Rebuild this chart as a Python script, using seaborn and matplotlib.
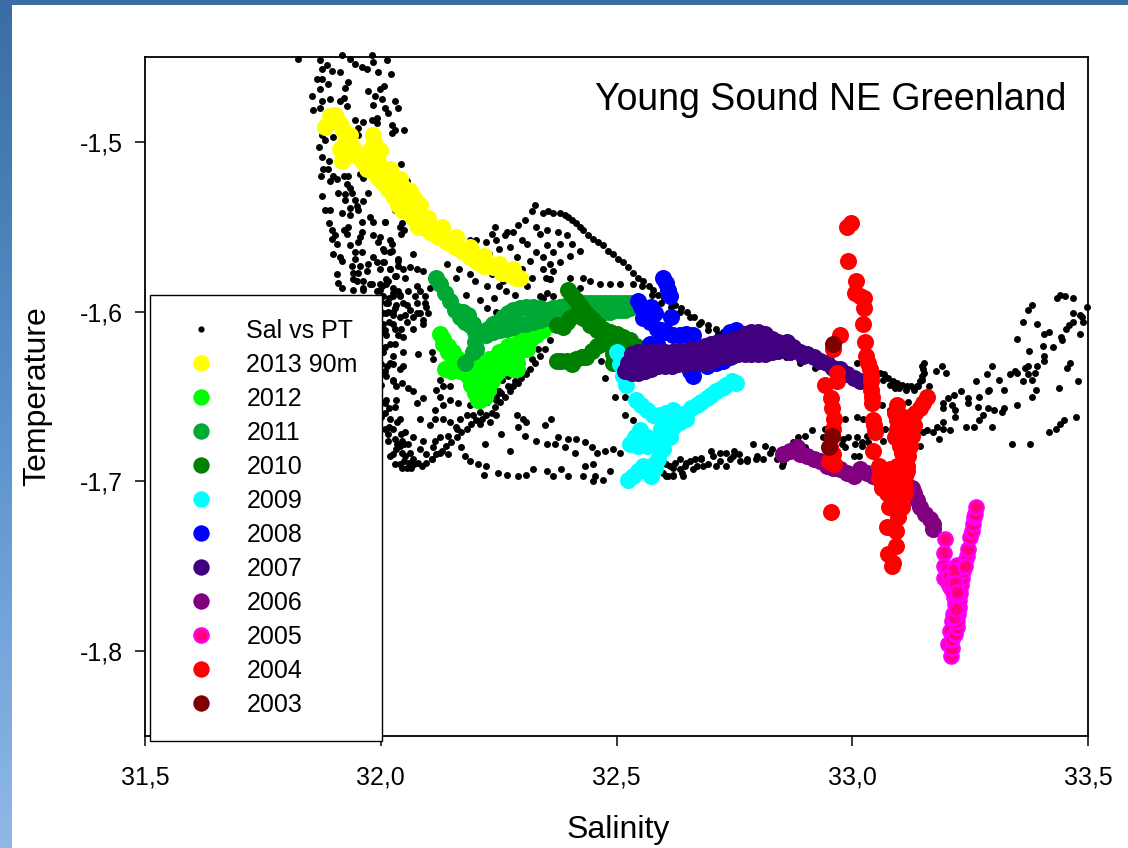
import numpy as np
import pandas as pd
import matplotlib
matplotlib.use("Agg")
import matplotlib.pyplot as plt
from matplotlib.lines import Line2D
from matplotlib.colors import LinearSegmentedColormap
import seaborn as sns

TITLE = "Young Sound NE Greenland"
x_ticks = [31.5, 32.0, 32.5, 33.0, 33.5]
x_tick_labels = ["31,5", "32,0", "32,5", "33,0", "33,5"]
y_ticks = [-1.5, -1.6, -1.7, -1.8]
y_tick_labels = ["-1,5", "-1,6", "-1,7", "-1,8"]

# Black CTD cloud, split by region: (salinity, temperature)
cloud_top = [(31.824,-1.451),(31.871,-1.452),(31.875,-1.457),(31.885,-1.455),(31.896,-1.458),(31.914,-1.459),(31.864,-1.463),(31.875,-1.463),(31.889,-1.466),(31.93,-1.465),(31.924,-1.468),(31.871,-1.469),(31.855,-1.473),(31.921,-1.474),(31.914,-1.476),(31.892,-1.475),(31.875,-1.476),(31.856,-1.481),(31.871,-1.48),(31.928,-1.479),(31.917,-1.449),(31.935,-1.451),(31.945,-1.454),(31.96,-1.456),(31.97,-1.457),(31.981,-1.449),(31.984,-1.453),(32.013,-1.452),(31.995,-1.459),(32.021,-1.46),(31.974,-1.47),(32.006,-1.467),(31.998,-1.469),(31.988,-1.473),(32.002,-1.475),(32.03,-1.476),(31.984,-1.478),(32.009,-1.48),(32.016,-1.483),(32.037,-1.48),(31.945,-1.487),(31.963,-1.488),(31.981,-1.487),(31.991,-1.486),(31.991,-1.489),(32.023,-1.49),(32.03,-1.493),(32.023,-1.495),(31.952,-1.492),(31.952,-1.496),(31.875,-1.496),(31.882,-1.499),(31.899,-1.497),(31.868,-1.503),(31.875,-1.509),(31.891,-1.511),(31.877,-1.516),(31.889,-1.516),(31.873,-1.52),(31.898,-1.52),(31.892,-1.523),(31.907,-1.522),(31.921,-1.52),(31.931,-1.52),(31.928,-1.525),(31.935,-1.527),(31.956,-1.519),(31.963,-1.521),(31.91,-1.53),(31.924,-1.531),(31.938,-1.53),(31.875,-1.532),(31.974,-1.53),(31.924,-1.534),(31.945,-1.534),(31.963,-1.535),(31.949,-1.538),(31.952,-1.54),(31.935,-1.539),(31.882,-1.54),(31.892,-1.54),(31.917,-1.542),(31.935,-1.543),(31.977,-1.544),(31.984,-1.547),(32.009,-1.547),(31.891,-1.548),(31.931,-1.55),(31.921,-1.552),(31.896,-1.552),(31.96,-1.547),(31.928,-1.554),(31.96,-1.553),(31.984,-1.555),(31.998,-1.556),(31.903,-1.555),(31.896,-1.557),(31.956,-1.556),(31.952,-1.559),(31.995,-1.559),(31.907,-1.56),(31.935,-1.561),(32.023,-1.56),(31.945,-1.565),(31.96,-1.565),(31.899,-1.566),(31.914,-1.568),(31.917,-1.57),(32.006,-1.564),(32.02,-1.565),(32.037,-1.569),(31.945,-1.569),(31.984,-1.568),(31.938,-1.573),(31.956,-1.573),(31.974,-1.572),(31.991,-1.571),(32.006,-1.571),(32.02,-1.575),(31.907,-1.578),(31.91,-1.583),(31.917,-1.586),(31.942,-1.577),(31.952,-1.577),(31.97,-1.576),(31.998,-1.575),(31.942,-1.581),(31.963,-1.582),(31.981,-1.584),(31.942,-1.587),(31.963,-1.587),(32.002,-1.585),(32.016,-1.582),(32.03,-1.579),(32.037,-1.573),(32.05,-1.493),(32.043,-1.513),(32.055,-1.523),(32.04,-1.532),(32.06,-1.535),(32.045,-1.548),(32.03,-1.54),(32.05,-1.552)]

cloud_ridge = [(32.327,-1.537),(32.32,-1.541),(32.306,-1.546),(32.291,-1.549),(32.281,-1.553),(32.267,-1.553),(32.263,-1.555),(32.242,-1.55),(32.235,-1.554),(32.203,-1.558),(32.189,-1.558),(32.224,-1.559),(32.245,-1.558),(32.274,-1.562),(32.288,-1.568),(32.316,-1.57),(32.344,-1.575),(32.359,-1.581),(32.33,-1.55),(32.337,-1.554),(32.352,-1.561),(32.366,-1.565),(32.352,-1.552),(32.38,-1.542),(32.366,-1.542),(32.344,-1.542),(32.355,-1.541),(32.39,-1.543),(32.397,-1.544),(32.406,-1.546),(32.415,-1.548),(32.422,-1.55),(32.429,-1.552),(32.44,-1.555),(32.45,-1.557),(32.461,-1.559),(32.472,-1.561),(32.482,-1.564),(32.493,-1.566),(32.503,-1.569),(32.514,-1.571),(32.525,-1.574),(32.535,-1.577),(32.546,-1.58),(32.557,-1.582),(32.568,-1.585),(32.578,-1.587),(32.589,-1.59),(32.6,-1.592),(32.612,-1.593),(32.625,-1.596),(32.637,-1.598),(32.65,-1.6),(32.665,-1.603),(32.68,-1.606),(32.695,-1.608),(32.71,-1.61),(32.725,-1.612),(32.74,-1.613),(32.755,-1.615),(32.77,-1.617),(32.8,-1.62),(32.83,-1.624),(32.86,-1.627),(32.89,-1.63),(32.92,-1.633),(32.95,-1.635),(32.98,-1.638),(33.01,-1.63),(33.03,-1.632),(33.045,-1.634),(33.059,-1.636),(33.067,-1.637),(33.075,-1.639),(33.087,-1.641),(33.095,-1.642),(33.105,-1.643),(33.116,-1.644),(33.125,-1.644),(33.137,-1.644),(33.143,-1.641),(33.147,-1.638),(33.15,-1.634),(33.152,-1.63),(33.1,-1.645),(33.115,-1.646),(33.13,-1.646),
(32.555,-1.585),(32.575,-1.59),(32.595,-1.595),(32.615,-1.597),(32.635,-1.6),(32.655,-1.603),(32.675,-1.607),(32.695,-1.611),(32.715,-1.613),(32.735,-1.615),(32.755,-1.618),(32.775,-1.62),(33.05,-1.637),(33.065,-1.64),(33.08,-1.643),(33.09,-1.645),(33.14,-1.644),(33.147,-1.632),(33.148,-1.64),(33.152,-1.636)]

cloud_mid = [(32.422,-1.564),(32.401,-1.567),(32.38,-1.571),(32.366,-1.576),(32.429,-1.58),(32.443,-1.582),(32.465,-1.584),(32.486,-1.584),(32.507,-1.584),(32.535,-1.584),(32.401,-1.58),(32.359,-1.581),(32.422,-1.586),(32.352,-1.589),(32.366,-1.591),(32.337,-1.591),(32.31,-1.585),(32.285,-1.59),(32.265,-1.588),(32.25,-1.585),(32.225,-1.585),(32.24,-1.592),(32.21,-1.593),(32.31,-1.598),(32.27,-1.6),(32.245,-1.6),(32.225,-1.598),(32.19,-1.578),(32.165,-1.575),(32.14,-1.572),(32.12,-1.58),
(32.25,-1.563),(32.23,-1.566),(32.3,-1.558),(32.31,-1.56),(32.33,-1.565),(32.345,-1.568),(32.36,-1.572),(32.38,-1.56),(32.395,-1.555),(32.375,-1.553),(32.405,-1.56),(32.35,-1.58),(32.32,-1.58),(32.3,-1.575),(32.28,-1.58),(32.26,-1.582),(32.235,-1.578),(32.2,-1.582),(32.18,-1.59),(32.16,-1.58)]

cloud_left = [(32.009,-1.547),(32.019,-1.558),(32.005,-1.563),(32.023,-1.564),(32.04,-1.55),(32.044,-1.554),(32.065,-1.53),(32.069,-1.566),(32.037,-1.57),(32.005,-1.571),(32.019,-1.575),(32.047,-1.575),(32.062,-1.574),(32.076,-1.575),(32.09,-1.576),(32.033,-1.579),(32.012,-1.581),(32.051,-1.58),(32.026,-1.589),(32.04,-1.591),(32.058,-1.588),(32.076,-1.585),(31.998,-1.587),(32.012,-1.595),(32.033,-1.596),(32.055,-1.596),(32.076,-1.595),(32.093,-1.591),(32.097,-1.597),(32.005,-1.601),(32.026,-1.602),(32.051,-1.602),(32.076,-1.601),(32.09,-1.605),(32.009,-1.611),(32.03,-1.61),(32.044,-1.61),(32.069,-1.61),(32.037,-1.614),(32.047,-1.615),(32.019,-1.619),(32.03,-1.619),(32.005,-1.624),(32.047,-1.624),(32.079,-1.625),(32.026,-1.626),(32.108,-1.624),(32.019,-1.63),(32.047,-1.632),(32.009,-1.635),(32.111,-1.628),(32.026,-1.64),(32.058,-1.645),(32.069,-1.647),(32.033,-1.644),(32.125,-1.64),(32.132,-1.644),(32.147,-1.644),(32.118,-1.646),(32.09,-1.651),(32.076,-1.654),(32.125,-1.65),(32.147,-1.652),(32.164,-1.654),(32.132,-1.655),(32.115,-1.658),(32.033,-1.652),(32.009,-1.654),(32.019,-1.663),(32.04,-1.663),(32.083,-1.663),(32.115,-1.663),(32.104,-1.667),(32.132,-1.663),(32.147,-1.665),(32.168,-1.663),(32.182,-1.661),(32.196,-1.661),(32.21,-1.666),(32.231,-1.665),(32.245,-1.661),(32.009,-1.669),(32.026,-1.669),(32.051,-1.671),(32.069,-1.674),(32.09,-1.676),(32.115,-1.676),(32.125,-1.674),(32.143,-1.673),(32.161,-1.669),(32.04,-1.679),(32.058,-1.678),(32.062,-1.683),(32.083,-1.681),(32.051,-1.685),(32.069,-1.687),(32.087,-1.691),(32.108,-1.687),(32.125,-1.683),(32.143,-1.684),(32.071,-1.69),(32.044,-1.672),(32.16,-1.668),(32.19,-1.655),(32.2,-1.654),(32.22,-1.643),(32.24,-1.645),(32.232,-1.638),(32.258,-1.64),(32.275,-1.632),(32.265,-1.625),(32.295,-1.622),(32.31,-1.615),(32.33,-1.605),(32.344,-1.592),(32.27,-1.638),(32.285,-1.628),(32.3,-1.618),(32.32,-1.61),(32.336,-1.6),(32.245,-1.65),(32.225,-1.653),(32.25,-1.647),(32.21,-1.659),
(32.02,-1.685),(32.03,-1.69),(32.045,-1.692),(32.065,-1.692),(32.08,-1.689),(32.095,-1.684),(32.11,-1.68),(32.05,-1.688),(32.035,-1.678),(32.015,-1.676),(32.008,-1.66),(32.0,-1.662)]

cloud_band = [(32.242,-1.656),(32.253,-1.653),(32.263,-1.65),(32.274,-1.647),(32.281,-1.644),(32.291,-1.642),(32.298,-1.639),(32.309,-1.637),(32.316,-1.634),(32.327,-1.63),(32.337,-1.626),(32.348,-1.622),(32.359,-1.617),(32.256,-1.648),(32.27,-1.644),(32.284,-1.641),(32.302,-1.635),(32.32,-1.628),(32.334,-1.622),(32.245,-1.652),(32.097,-1.689),(32.108,-1.687),(32.118,-1.684),(32.129,-1.682),(32.139,-1.679),(32.15,-1.677),(32.161,-1.674),(32.171,-1.671),(32.182,-1.669),(32.192,-1.666),(32.203,-1.664),(32.214,-1.663),(32.224,-1.661),(32.235,-1.66)]

cloud_leg = [(31.998,-1.584),(32.012,-1.584),(32.026,-1.586),(32.04,-1.59),(32.003,-1.591),(32.018,-1.592),(31.998,-1.594),(31.99,-1.6),(32.0,-1.6),(32.016,-1.6),(32.03,-1.598),(31.99,-1.608),(32.003,-1.608),(32.018,-1.606),(32.0,-1.612),(32.012,-1.614),(31.99,-1.618),(32.01,-1.621),(32.0,-1.631),(32.014,-1.632),(32.027,-1.631),(32.0,-1.636),(32.012,-1.638),(32.04,-1.634),(32.027,-1.641),(32.045,-1.642),(32.0,-1.643),(32.012,-1.652),(32.0,-1.653),(32.018,-1.657),(32.03,-1.656),(32.035,-1.665),(32.018,-1.668),(32.015,-1.672),(32.03,-1.675),(32.045,-1.676),(32.05,-1.678),(32.033,-1.681),(32.045,-1.683),(32.04,-1.69),(32.055,-1.692),(32.025,-1.684),(32.06,-1.689),
(32.005,-1.591),(32.016,-1.595),(32.027,-1.591),(32.037,-1.588),(32.048,-1.595),(32.062,-1.599),(32.072,-1.591),(32.083,-1.588),(32.094,-1.595),(32.101,-1.601),(32.012,-1.601),(32.027,-1.6),(32.041,-1.603),(32.055,-1.606),(32.069,-1.603),(32.083,-1.601),(32.005,-1.607),(32.027,-1.607),(32.09,-1.607),(32.104,-1.586),(31.977,-1.584),(31.991,-1.588),(31.949,-1.582),(31.963,-1.586)]

cloud_low = [(32.17,-1.68),(32.178,-1.685),(32.189,-1.688),(32.206,-1.69),(32.224,-1.691),(32.221,-1.678),(32.22,-1.696),(32.249,-1.695),(32.267,-1.696),(32.291,-1.697),(32.309,-1.696),(32.323,-1.693),(32.352,-1.694),(32.366,-1.697),(32.383,-1.693),(32.397,-1.697),(32.274,-1.682),(32.288,-1.661),(32.291,-1.668),(32.302,-1.663),(32.309,-1.665),(32.348,-1.667),(32.362,-1.663),(32.256,-1.672),(32.306,-1.673),(32.33,-1.676),(32.352,-1.678),(32.369,-1.678),(32.376,-1.674),(32.397,-1.675),(32.415,-1.675),(32.39,-1.68),(32.412,-1.683),(32.433,-1.677),(32.447,-1.68),(32.458,-1.683),(32.475,-1.682),(32.493,-1.681),(32.507,-1.683),(32.518,-1.661),(32.535,-1.664),(32.518,-1.65),(32.496,-1.65),(32.475,-1.639),(32.468,-1.629),(32.433,-1.691),(32.45,-1.69),(32.429,-1.697),(32.454,-1.697),(32.486,-1.694),(32.472,-1.699),(32.45,-1.7),(32.606,-1.69),(32.62,-1.692),(32.634,-1.693),(32.648,-1.689),(32.666,-1.687),(32.68,-1.686),(32.7,-1.682),(32.719,-1.683),(32.741,-1.687),(32.776,-1.688),(32.789,-1.678),(32.815,-1.679),(32.829,-1.681),(32.84,-1.687),(32.733,-1.691),(32.712,-1.691),(32.684,-1.691),(32.663,-1.693),(32.642,-1.697),(32.62,-1.696),(32.61,-1.697),(32.795,-1.687),(32.76,-1.684),(32.75,-1.682),
(32.599,-1.695),(32.613,-1.691),(32.624,-1.689),(32.634,-1.687),(32.645,-1.691),(32.656,-1.688),(32.67,-1.691),(32.68,-1.687),(32.694,-1.69),(32.705,-1.685),(32.719,-1.688),(32.733,-1.683),(32.747,-1.685),(32.762,-1.688),(32.776,-1.687),(32.797,-1.685),(32.811,-1.687),(32.825,-1.683),(32.62,-1.697),(32.638,-1.695),(32.606,-1.697)]

cloud_right = [(33.162,-1.644),(33.177,-1.635),(33.19,-1.632),(33.198,-1.636),(33.262,-1.641),(33.286,-1.637),(33.297,-1.632),(33.312,-1.64),(33.334,-1.637),(33.345,-1.635),(33.35,-1.636),(33.367,-1.633),(33.372,-1.632),(33.362,-1.641),(33.372,-1.637),(33.382,-1.64),(33.388,-1.636),(33.392,-1.632),(33.406,-1.629),(33.406,-1.626),(33.404,-1.62),(33.425,-1.621),(33.375,-1.623),(33.349,-1.616),(33.443,-1.615),(33.444,-1.617),(33.407,-1.613),(33.418,-1.612),(33.454,-1.61),(33.459,-1.608),(33.468,-1.606),(33.469,-1.601),(33.483,-1.602),(33.49,-1.606),(33.484,-1.613),(33.487,-1.603),(33.497,-1.597),(33.435,-1.592),(33.441,-1.59),(33.451,-1.591),(33.468,-1.592),(33.381,-1.596),(33.372,-1.599),(33.362,-1.606),(33.391,-1.607),(33.462,-1.63),(33.455,-1.633),(33.479,-1.641),(33.439,-1.645),(33.389,-1.646),(33.381,-1.65),(33.35,-1.655),(33.322,-1.646),(33.291,-1.646),(33.287,-1.647),(33.268,-1.65),(33.245,-1.651),(33.245,-1.654),(33.23,-1.647),(33.216,-1.649),(33.204,-1.651),(33.193,-1.654),(33.193,-1.657),(33.211,-1.655),(33.218,-1.658),(33.218,-1.662),(33.266,-1.656),(33.287,-1.657),(33.301,-1.658),(33.322,-1.657),(33.317,-1.659),(33.277,-1.661),(33.268,-1.664),(33.241,-1.668),(33.259,-1.668),(33.297,-1.668),(33.208,-1.67),(33.192,-1.665),(33.193,-1.669),(33.179,-1.668),(33.172,-1.671),(33.158,-1.67),(33.151,-1.671),(33.185,-1.675),(33.144,-1.679),(33.475,-1.662),(33.449,-1.664),(33.441,-1.666),(33.432,-1.669),(33.417,-1.671),(33.338,-1.678),(33.376,-1.678)]

cloud_under_red = [(32.985,-1.663),(33.01,-1.662),(33.022,-1.663),(32.942,-1.669),(32.939,-1.674),(32.992,-1.674),(32.981,-1.675),(32.978,-1.678),(32.985,-1.68),(33.003,-1.685),(33.015,-1.685),(33.01,-1.674),(33.006,-1.678),(33.02,-1.677),(33.02,-1.679),(33.031,-1.673),(33.034,-1.677),(33.063,-1.655),(33.08,-1.658),(33.119,-1.653),(33.07,-1.669),(33.066,-1.676),(32.914,-1.67),(32.9,-1.673),(32.886,-1.674),(32.875,-1.677),(32.854,-1.689),(32.85,-1.691),(32.87,-1.683),(32.9,-1.68)]

pts_2013 = [(31.882,-1.491),(31.892,-1.485),(31.907,-1.487),(31.915,-1.49),(31.92,-1.493),(31.931,-1.497),(31.925,-1.5),(31.914,-1.504),(31.918,-1.511),(31.93,-1.505),(31.941,-1.503),(31.95,-1.507),(31.96,-1.511),(31.97,-1.516),(31.984,-1.496),(31.986,-1.5),(31.988,-1.503),(31.99,-1.507),(31.994,-1.511),(31.984,-1.518),(31.995,-1.521),(32.005,-1.524),(32.016,-1.528),(32.026,-1.532),(32.036,-1.537),(32.046,-1.54),(32.056,-1.54),(32.068,-1.545),(32.08,-1.55),(32.09,-1.55),(32.105,-1.553),(32.122,-1.556),(32.141,-1.559),(32.158,-1.562),(32.174,-1.565),(32.189,-1.568),(32.205,-1.571),(32.22,-1.573),(32.238,-1.574),(32.255,-1.576),(32.27,-1.578),(32.283,-1.579),(32.295,-1.58),
(32.009,-1.521),(32.024,-1.525),(32.037,-1.529),(32.049,-1.533),(32.062,-1.538),(32.075,-1.541),(32.092,-1.545),(32.104,-1.551),(32.121,-1.553),(32.136,-1.558),(32.151,-1.558),(32.164,-1.562),(32.179,-1.564),(32.194,-1.568),(32.211,-1.568),(32.225,-1.572),(32.242,-1.573),(32.257,-1.577),(32.274,-1.577),(32.287,-1.58),(32.02,-1.516),(32.041,-1.522),(32.062,-1.529),(32.083,-1.537),(31.998,-1.505),(31.977,-1.505),(31.977,-1.514),(31.935,-1.496),(31.945,-1.508),(31.903,-1.484),
(32.1,-1.545),(32.13,-1.55),(32.16,-1.556),(32.19,-1.562),(32.22,-1.567),(32.25,-1.572),(32.28,-1.575),(32.07,-1.533),(32.05,-1.527)]

pts_2012 = [(32.125,-1.613),(32.133,-1.619),(32.143,-1.624),(32.152,-1.63),(32.16,-1.634),(32.136,-1.634),(32.15,-1.635),(32.168,-1.635),(32.184,-1.637),(32.196,-1.64),(32.203,-1.645),(32.208,-1.648),(32.21,-1.652),(32.214,-1.647),(32.217,-1.642),(32.224,-1.638),(32.238,-1.632),(32.254,-1.628),(32.268,-1.631),(32.288,-1.634),(32.281,-1.624),(32.297,-1.62),(32.309,-1.616),(32.33,-1.61),(32.352,-1.608),(32.36,-1.607),(32.2,-1.63),(32.23,-1.628),(32.25,-1.624),(32.27,-1.62),(32.29,-1.625),(32.31,-1.622),(32.22,-1.64),(32.24,-1.636),(32.19,-1.628),
(32.132,-1.616),(32.143,-1.62),(32.154,-1.624),(32.164,-1.628),(32.175,-1.633),(32.185,-1.638),(32.192,-1.643),(32.199,-1.648),(32.207,-1.652),(32.221,-1.65),(32.228,-1.646),(32.235,-1.641),(32.245,-1.637),(32.26,-1.633),(32.274,-1.629),(32.288,-1.625),(32.302,-1.621),(32.316,-1.617),(32.33,-1.614),(32.344,-1.611),(32.21,-1.638),(32.224,-1.632),(32.242,-1.628),(32.26,-1.624),(32.277,-1.62),(32.295,-1.616),(32.203,-1.646),(32.214,-1.644),(32.15,-1.634),(32.168,-1.634),(32.185,-1.632),(32.203,-1.632),(32.281,-1.634),(32.288,-1.63)]

pts_2011 = [(32.118,-1.58),(32.125,-1.584),(32.136,-1.589),(32.146,-1.594),(32.157,-1.599),(32.168,-1.603),(32.178,-1.606),(32.189,-1.608),(32.199,-1.612),(32.185,-1.602),(32.196,-1.607),(32.175,-1.6),(32.217,-1.612),(32.228,-1.61),(32.238,-1.607),(32.249,-1.606),(32.26,-1.603),(32.27,-1.601),(32.281,-1.599),(32.295,-1.598),(32.309,-1.597),(32.323,-1.597),(32.337,-1.598),(32.352,-1.599),(32.366,-1.598),(32.38,-1.597),(32.394,-1.596),(32.224,-1.614),(32.238,-1.612),(32.253,-1.611),(32.267,-1.61),(32.281,-1.609),(32.295,-1.607),(32.309,-1.607),(32.323,-1.606),(32.337,-1.605),(32.352,-1.604),(32.366,-1.602),(32.38,-1.602),(32.412,-1.595),(32.422,-1.595),(32.433,-1.595),(32.443,-1.595),(32.454,-1.595),(32.465,-1.595),(32.475,-1.595),(32.486,-1.595),(32.496,-1.595),(32.507,-1.595),(32.518,-1.595),(32.528,-1.595),(32.412,-1.601),(32.422,-1.601),(32.433,-1.601),(32.443,-1.601),(32.454,-1.6),(32.465,-1.6),(32.475,-1.6),(32.486,-1.6),(32.496,-1.599),(32.507,-1.599),(32.518,-1.599),(32.528,-1.598),(32.199,-1.618),(32.196,-1.624),(32.178,-1.63),(32.203,-1.622)]

pts_2010 = [(32.397,-1.587),(32.405,-1.59),(32.415,-1.593),(32.422,-1.596),(32.429,-1.599),(32.44,-1.602),(32.45,-1.605),(32.461,-1.608),(32.472,-1.61),(32.486,-1.612),(32.5,-1.613),(32.514,-1.615),(32.528,-1.617),(32.542,-1.62),(32.373,-1.608),(32.387,-1.609),(32.394,-1.606),(32.401,-1.604),(32.415,-1.602),(32.429,-1.604),(32.443,-1.608),(32.458,-1.611),(32.472,-1.614),(32.489,-1.618),(32.507,-1.619),(32.373,-1.629),(32.383,-1.629),(32.394,-1.629),(32.405,-1.631),(32.415,-1.628),(32.426,-1.627),(32.436,-1.627),(32.447,-1.623),(32.458,-1.62),(32.468,-1.619),(32.479,-1.617),(32.493,-1.625),(32.493,-1.63)]

pts_2009 = [(32.5,-1.624),(32.507,-1.631),(32.514,-1.638),(32.521,-1.643),(32.542,-1.652),(32.553,-1.655),(32.564,-1.658),(32.578,-1.661),(32.592,-1.661),(32.606,-1.66),(32.62,-1.658),(32.754,-1.642),(32.744,-1.641),(32.733,-1.643),(32.723,-1.645),(32.712,-1.647),(32.701,-1.649),(32.691,-1.651),(32.68,-1.653),(32.67,-1.655),(32.659,-1.657),(32.648,-1.66),(32.638,-1.661),(32.627,-1.663),(32.617,-1.665),(32.606,-1.667),(32.595,-1.669),(32.648,-1.663),(32.634,-1.665),(32.62,-1.668),(32.606,-1.672),(32.595,-1.676),(32.585,-1.68),(32.613,-1.674),(32.599,-1.681),(32.588,-1.687),(32.581,-1.692),(32.574,-1.697),(32.564,-1.674),(32.549,-1.67),(32.539,-1.674),(32.528,-1.678),(32.546,-1.679),(32.564,-1.679),(32.578,-1.677),(32.557,-1.691),(32.546,-1.694),(32.535,-1.697),(32.525,-1.699),(32.574,-1.691)]

pts_2008 = [(32.599,-1.58),(32.606,-1.583),(32.609,-1.587),(32.613,-1.591),(32.616,-1.603),(32.546,-1.594),(32.553,-1.597),(32.564,-1.599),(32.574,-1.597),(32.581,-1.601),(32.557,-1.604),(32.571,-1.606),(32.585,-1.61),(32.595,-1.611),(32.606,-1.612),(32.62,-1.614),(32.634,-1.614),(32.648,-1.613),(32.662,-1.614),(32.571,-1.619),(32.585,-1.619),(32.655,-1.635),(32.662,-1.638),(32.691,-1.632),(32.712,-1.63),(32.726,-1.629),(32.74,-1.627),(32.74,-1.612),(32.754,-1.611),(32.769,-1.613),(32.776,-1.618)]

pts_2007 = [(32.518,-1.635),(32.532,-1.636),(32.546,-1.636),(32.56,-1.635),(32.574,-1.634),(32.588,-1.632),(32.602,-1.632),(32.617,-1.632),(32.631,-1.631),(32.645,-1.631),(32.659,-1.63),(32.673,-1.63),(32.687,-1.63),(32.701,-1.629),(32.716,-1.627),(32.73,-1.626),(32.744,-1.626),(32.758,-1.625),(32.772,-1.625),(32.786,-1.625),(32.8,-1.625),(32.815,-1.625),(32.829,-1.624),(32.843,-1.623),(32.532,-1.625),(32.546,-1.624),(32.56,-1.624),(32.574,-1.624),(32.588,-1.624),(32.602,-1.624),(32.617,-1.624),(32.631,-1.623),(32.645,-1.623),(32.659,-1.622),(32.673,-1.622),(32.687,-1.62),(32.701,-1.619),(32.716,-1.618),(32.73,-1.618),(32.744,-1.617),(32.758,-1.616),(32.772,-1.613),(32.786,-1.612),(32.8,-1.612),(32.815,-1.613),(32.829,-1.616),(32.843,-1.618),(32.854,-1.622),(32.861,-1.618),(32.868,-1.624),(32.875,-1.621),(32.889,-1.624),(32.896,-1.626),(32.904,-1.625),(32.918,-1.627),(32.932,-1.629),(32.946,-1.63),(32.96,-1.633),(32.974,-1.634),(32.988,-1.637),(33.003,-1.639),(33.017,-1.641),
(32.525,-1.63),(32.54,-1.63),(32.555,-1.63),(32.57,-1.628),(32.585,-1.628),(32.6,-1.628),(32.75,-1.62),(32.78,-1.618),(32.8,-1.618),(32.82,-1.62)]

pts_2006 = [(32.854,-1.684),(32.868,-1.682),(32.882,-1.68),(32.889,-1.684),(32.904,-1.685),(32.918,-1.687),(32.932,-1.688),(32.946,-1.691),(32.96,-1.692),(32.974,-1.693),(32.988,-1.695),(33.003,-1.697),(33.017,-1.693),(33.031,-1.695),(33.045,-1.697),(33.059,-1.699),(33.126,-1.704),(33.13,-1.707),(33.137,-1.711),(33.144,-1.715),(33.155,-1.719),(33.165,-1.722),(33.172,-1.725),(33.172,-1.728)]

pts_2005 = [(33.197,-1.734),(33.194,-1.742),(33.194,-1.75),(33.195,-1.757),(33.208,-1.762),(33.215,-1.768),(33.208,-1.76),(33.204,-1.76),(33.211,-1.764),(33.218,-1.772),(33.213,-1.778),(33.211,-1.782),(33.208,-1.788),(33.204,-1.796),(33.209,-1.803),(33.211,-1.798),(33.211,-1.793),(33.218,-1.79),(33.222,-1.786),(33.223,-1.782),(33.225,-1.778),(33.227,-1.774),(33.227,-1.77),(33.229,-1.766),(33.23,-1.761),(33.232,-1.757),(33.234,-1.753),(33.236,-1.75),(33.222,-1.749),(33.239,-1.747),(33.243,-1.744),(33.246,-1.74),(33.25,-1.733),(33.254,-1.729),(33.256,-1.725),(33.258,-1.721),(33.261,-1.719),(33.262,-1.715),
(33.2,-1.752),(33.205,-1.756),(33.21,-1.76),(33.215,-1.752),(33.218,-1.76),(33.222,-1.765),(33.216,-1.78),(33.22,-1.775),(33.24,-1.75)]

pts_2004 = [(32.997,-1.548),(32.988,-1.55),(32.992,-1.57),(33.007,-1.582),(33.006,-1.589),(33.017,-1.591),(33.024,-1.592),(33.024,-1.598),(33.022,-1.607),(33.027,-1.618),(33.029,-1.626),(33.034,-1.63),(33.038,-1.634),(33.039,-1.638),(33.039,-1.641),(33.04,-1.646),(33.041,-1.65),(33.041,-1.654),(33.044,-1.664),(33.046,-1.667),(33.048,-1.671),(33.044,-1.682),(32.973,-1.614),(32.959,-1.622),(32.967,-1.636),(32.942,-1.643),(32.967,-1.641),(32.955,-1.651),(32.958,-1.657),(32.962,-1.663),(32.96,-1.669),(32.957,-1.673),(32.953,-1.68),(32.96,-1.684),(32.962,-1.69),(32.95,-1.688),(32.955,-1.718),
(33.158,-1.65),(33.151,-1.654),(33.144,-1.657),(33.133,-1.66),(33.126,-1.663),(33.13,-1.667),(33.126,-1.673),(33.123,-1.679),(33.119,-1.685),(33.116,-1.691),(33.112,-1.697),(33.109,-1.703),(33.105,-1.707),(33.094,-1.655),(33.091,-1.66),(33.094,-1.664),(33.094,-1.669),(33.091,-1.674),(33.102,-1.679),(33.105,-1.683),(33.094,-1.691),(33.08,-1.693),(33.056,-1.691),(33.059,-1.697),(33.066,-1.703),(33.073,-1.707),(33.087,-1.705),(33.094,-1.699),(33.112,-1.671),(33.109,-1.677),(33.109,-1.662),(33.119,-1.666),
(33.056,-1.698),(33.063,-1.704),(33.08,-1.706),(33.094,-1.703),(33.109,-1.699),(33.116,-1.694),(33.077,-1.715),(33.087,-1.714),(33.098,-1.721),(33.105,-1.715),(33.112,-1.707),(33.094,-1.709),(33.109,-1.703),(33.087,-1.699),(33.074,-1.727),(33.093,-1.729),(33.093,-1.738),(33.075,-1.743),(33.087,-1.748),(33.084,-1.75)]

sal_2003 = [32.959, 32.958, 32.951]
tem_2003 = [-1.619, -1.673, -1.68]

series_names = ["2013 90m", "2012", "2011", "2010", "2009", "2008", "2007", "2006", "2005", "2004", "2003"]
series_colors = ["#ffff00", "#00ff00", "#00a933", "#008000", "#00ffff", "#0000ff", "#400080", "#800080", "#ff0080", "#ff0000", "#800000"]
series_points = [pts_2013, pts_2012, pts_2011, pts_2010, pts_2009, pts_2008, pts_2007, pts_2006, pts_2005, pts_2004, list(zip(sal_2003, tem_2003))]

sns.set_theme(style="ticks")
plt.rcParams["font.family"] = ["Liberation Sans", "DejaVu Sans"]
plt.rcParams["text.color"] = "black"

W, H = 1128, 848
fig = plt.figure(figsize=(W / 100, H / 100), dpi=100, facecolor="white")

strip = fig.add_axes([0, 0, 12 / W, 1])
strip.imshow(np.linspace(0, 1, 256)[:, None], aspect="auto",
             cmap=LinearSegmentedColormap.from_list("s", ["#386ea4", "#5a92cc", "#8fb8e8"]))
strip.axis("off")
top = fig.add_axes([0, 1 - 5 / H, 1, 5 / H])
top.set_facecolor("#3a6ea5")
top.set_xticks([]); top.set_yticks([])
for s in top.spines.values():
    s.set_visible(False)

ax = fig.add_axes([145 / W, (H - 736) / H, 943 / W, 679 / H])
cloud = pd.DataFrame(cloud_top + cloud_ridge + cloud_mid + cloud_left + cloud_band + cloud_leg + cloud_low + cloud_right + cloud_under_red,
                     columns=["sal", "temp"])
sns.scatterplot(data=cloud, x="sal", y="temp", s=25, color="black", linewidth=0, ax=ax, clip_on=False, zorder=2)

handles = [Line2D([], [], ls="", marker="o", ms=4.5, mfc="black", mec="black", mew=0)]
labels = ["Sal vs PT"]
for name, col, pts in zip(series_names, series_colors, series_points):
    frame = pd.DataFrame(pts, columns=["sal", "temp"])
    edge = "#ff00ff" if name == "2005" else col
    lw = 1.7 if name == "2005" else 0
    size = 106 if name == "2005" else 150
    sns.scatterplot(data=frame, x="sal", y="temp", s=size, color=col, edgecolor=edge, linewidth=lw, ax=ax, zorder=3)
    handles.append(Line2D([], [], ls="", marker="o", ms=11.8 if lw == 0 else 10.3, mfc=col, mec=edge, mew=lw))
    labels.append(name)

ax.set_xlim(31.5, 33.5)
ax.set_ylim(-1.85, -1.45)
ax.set_xticks(x_ticks, x_tick_labels)
ax.set_yticks(y_ticks, y_tick_labels)
ax.tick_params(axis="x", length=7, width=1.1, labelsize=18, pad=14, color="black", labelcolor="black")
ax.tick_params(axis="y", length=7, width=1.1, labelsize=18, pad=9, color="black", labelcolor="black")
for s in ax.spines.values():
    s.set_visible(True)
    s.set_linewidth(1.3)
    s.set_color("black")
ax.set_xlabel("")
ax.set_ylabel("")
fig.text(618 / W, 1 - 830 / H, "Salinity", fontsize=23, ha="center", va="center", color="black")
fig.text(37 / W, 1 - 396 / H, "Temperature", fontsize=23, rotation=90, ha="center", va="center", color="black")
ax.text(1066 / W, 1 - 100 / H, TITLE, transform=fig.transFigure, fontsize=27, ha="right", va="center", color="black")

leg = ax.legend(handles, labels, loc="upper left", bbox_to_anchor=(150 / W, 1 - 295 / H), bbox_transform=fig.transFigure,
                borderaxespad=0, fontsize=18, frameon=True, fancybox=False, framealpha=1, edgecolor="black",
                borderpad=0.96, handlelength=2.12, handletextpad=0.78, labelspacing=0.40, numpoints=1, labelcolor="black")
leg.get_frame().set_linewidth(1.0)
leg.set_zorder(10)

fig.savefig("out.png", dpi=100, facecolor="white")
